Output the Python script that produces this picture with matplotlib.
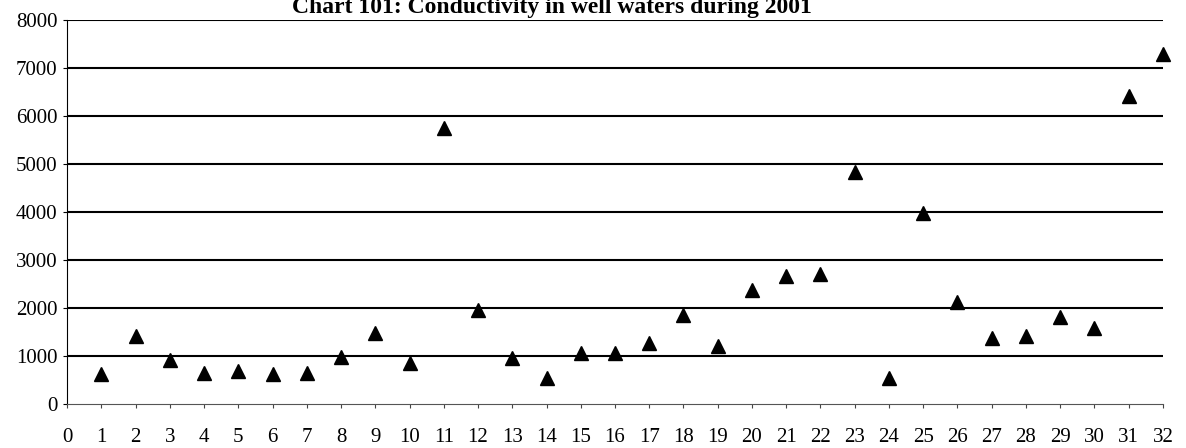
import matplotlib
matplotlib.use("Agg")
import matplotlib.pyplot as plt
import numpy as np

# well number and conductivity
wells = list(range(1, 33))
conductivity = [616, 1417, 916, 645, 693, 616, 651, 971, 1472, 854,
                5752, 1967, 964, 532, 1062, 1062, 1264, 1848, 1208, 2384,
                2662, 2712, 4827, 532, 3971, 2134, 1382, 1409, 1814, 1584,
                6420, 7290]
x_ticks = list(range(0, 33))
y_ticks = [0, 1000, 2000, 3000, 4000, 5000, 6000, 7000, 8000]
title = "Chart 101: Conductivity in well waters during 2001"

plt.rcParams["font.family"] = ["Liberation Serif", "DejaVu Serif"]

fig = plt.figure(figsize=(11.86, 4.48), dpi=100)
ax = fig.add_axes([0.0565, 0.0982, 0.9241, 0.8572])

# horizontal gridlines
for v in y_ticks[1:]:
    ax.axhline(v, color="black", lw=1.5, zorder=1)

ax.plot(wells, conductivity, linestyle="none", marker="^", ms=9.5,
        color="black", clip_on=False, zorder=3)

ax.set_xlim(0, 32)
ax.set_ylim(0, 8000)
ax.set_xticks(x_ticks)
ax.set_yticks(y_ticks)
ax.tick_params(axis="x", direction="out", length=3, width=0.8, pad=14,
               labelsize=15, color="#444444")
ax.tick_params(axis="y", direction="out", length=3, width=0.8, pad=4,
               labelsize=15)

for s in ["top", "right"]:
    ax.spines[s].set_visible(False)
ax.spines["left"].set_linewidth(0.8)
ax.spines["bottom"].set_linewidth(0.8)
ax.spines["bottom"].set_color("#555555")

# title sits just above the top gridline
fig.text(0.4654, 0.9705, title, ha="center", va="baseline",
         fontsize=17, fontweight="bold")

fig.savefig("out.png", dpi=100)
